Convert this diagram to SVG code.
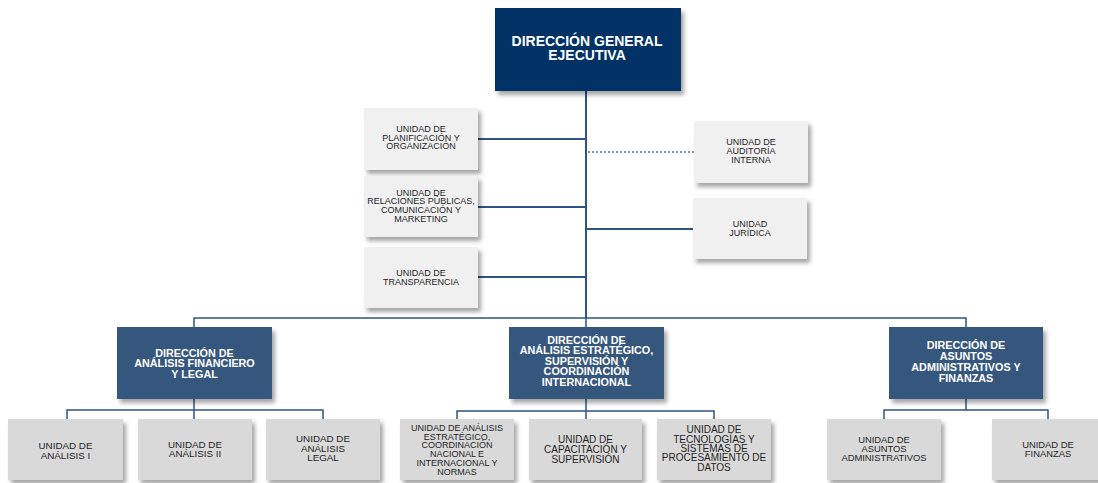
<svg xmlns="http://www.w3.org/2000/svg" width="1098" height="483" viewBox="0 0 1098 483">
<style>
.top{fill:#033366}
.dir{fill:#35577d}
.u1{fill:#f0f0f0}
.u2{fill:#d9d9d9}
.wt{font-family:"Liberation Sans",Arial,sans-serif;font-weight:bold;fill:#fff;text-anchor:middle}
.ut{font-family:"Liberation Sans",Arial,sans-serif;fill:#1e1e1e;text-anchor:middle}
.ln{stroke:#2e5387;fill:none}
</style>
<defs>
<filter id="sh" x="-10%" y="-10%" width="130%" height="140%">
<feDropShadow dx="3" dy="4" stdDeviation="2" flood-color="#000" flood-opacity="0.35"/>
</filter>
</defs>
<g id="connectors">
<line class="ln" x1="586" y1="90" x2="586" y2="318" stroke-width="2"/>
<line class="ln" x1="478" y1="139" x2="586" y2="139" stroke-width="2"/>
<line class="ln" x1="478" y1="207" x2="586" y2="207" stroke-width="2"/>
<line class="ln" x1="478" y1="277" x2="586" y2="277" stroke-width="2"/>
<line x1="588" y1="152" x2="694" y2="152" stroke="#7590bb" stroke-width="2" stroke-dasharray="2,2"/>
<line class="ln" x1="586" y1="229" x2="693" y2="229" stroke-width="2"/>
<polyline class="ln" points="194,327 194,318 966,318 966,327" stroke-width="1.5"/>
<line class="ln" x1="586" y1="318" x2="586" y2="327" stroke-width="1.5"/>
<line class="ln" x1="194" y1="399" x2="194" y2="419" stroke-width="1.5"/>
<polyline class="ln" points="67,419 67,410 323,410 323,419" stroke-width="1.5"/>
<line class="ln" x1="586" y1="399" x2="586" y2="419" stroke-width="1.5"/>
<polyline class="ln" points="457,419 457,411 714,411 714,419" stroke-width="1.5"/>
<line class="ln" x1="966" y1="399" x2="966" y2="410" stroke-width="1.5"/>
<polyline class="ln" points="884,419 884,410 1048,410 1048,419" stroke-width="1.5"/>
</g>
<g id="dge">
<rect class="top" x="495" y="8" width="186" height="83" filter="url(#sh)"/>
<text class="wt" font-size="14"><tspan x="587" y="45.5">DIRECCIÓN GENERAL</tspan><tspan x="587" y="59.5">EJECUTIVA</tspan></text>
</g>
<g id="planificacion">
<rect class="u1" x="364" y="108" width="114" height="62" filter="url(#sh)"/>
<text class="ut" font-size="9"><tspan x="421" y="132.3">UNIDAD DE</tspan><tspan x="421" y="140.7">PLANIFICACIÓN Y</tspan><tspan x="421" y="149">ORGANIZACIÓN</tspan></text>
</g>
<g id="relaciones">
<rect class="u1" x="364" y="176" width="114" height="61" filter="url(#sh)"/>
<text class="ut" font-size="9"><tspan x="421" y="195.7">UNIDAD DE</tspan><tspan x="421" y="204.2">RELACIONES PÚBLICAS,</tspan><tspan x="421" y="212.7">COMUNICACIÓN Y</tspan><tspan x="421" y="221.5">MARKETING</tspan></text>
</g>
<g id="transparencia">
<rect class="u1" x="364" y="247" width="114" height="61" filter="url(#sh)"/>
<text class="ut" font-size="9"><tspan x="421" y="276">UNIDAD DE</tspan><tspan x="421" y="285.3">TRANSPARENCIA</tspan></text>
</g>
<g id="auditoria">
<rect class="u1" x="694" y="121" width="114" height="62" filter="url(#sh)"/>
<text class="ut" font-size="9"><tspan x="751" y="145">UNIDAD DE</tspan><tspan x="751" y="154">AUDITORÍA</tspan><tspan x="751" y="163.3">INTERNA</tspan></text>
</g>
<g id="juridica">
<rect class="u1" x="693" y="198" width="114" height="61" filter="url(#sh)"/>
<text class="ut" font-size="9"><tspan x="750" y="227.3">UNIDAD</tspan><tspan x="750" y="236.3">JURÍDICA</tspan></text>
</g>
<g id="dir-financiero">
<rect class="dir" x="117" y="327" width="155" height="72" filter="url(#sh)"/>
<text class="wt" font-size="10.8"><tspan x="194.5" y="356.5">DIRECCIÓN DE</tspan><tspan x="194.5" y="367">ANÁLISIS FINANCIERO</tspan><tspan x="194.5" y="377.5">Y LEGAL</tspan></text>
</g>
<g id="dir-estrategico">
<rect class="dir" x="509" y="327" width="155" height="72" filter="url(#sh)"/>
<text class="wt" font-size="10.8"><tspan x="586.5" y="343.5">DIRECCIÓN DE</tspan><tspan x="586.5" y="354">ANÁLISIS ESTRATÉGICO,</tspan><tspan x="586.5" y="364.5">SUPERVISIÓN Y</tspan><tspan x="586.5" y="375">COORDINACIÓN</tspan><tspan x="586.5" y="385.5">INTERNACIONAL</tspan></text>
</g>
<g id="dir-administrativos">
<rect class="dir" x="889" y="327" width="154" height="72" filter="url(#sh)"/>
<text class="wt" font-size="10.8"><tspan x="966" y="349">DIRECCIÓN DE</tspan><tspan x="966" y="360">ASUNTOS</tspan><tspan x="966" y="371">ADMINISTRATIVOS Y</tspan><tspan x="966" y="382">FINANZAS</tspan></text>
</g>
<g id="analisis-1">
<rect class="u2" x="8" y="419" width="115" height="61" filter="url(#sh)"/>
<text class="ut" font-size="9.8"><tspan x="65.5" y="449.3">UNIDAD DE</tspan><tspan x="65.5" y="458.5">ANÁLISIS I</tspan></text>
</g>
<g id="analisis-2">
<rect class="u2" x="138" y="419" width="114" height="61" filter="url(#sh)"/>
<text class="ut" font-size="9.8"><tspan x="195" y="447.7">UNIDAD DE</tspan><tspan x="195" y="456.9">ANÁLISIS II</tspan></text>
</g>
<g id="analisis-legal">
<rect class="u2" x="266" y="419" width="114" height="61" filter="url(#sh)"/>
<text class="ut" font-size="9.8"><tspan x="323" y="442.3">UNIDAD DE</tspan><tspan x="323" y="451.7">ANÁLISIS</tspan><tspan x="323" y="461.3">LEGAL</tspan></text>
</g>
<g id="analisis-estrategico">
<rect class="u2" x="400" y="419" width="114" height="61" filter="url(#sh)"/>
<text class="ut" font-size="9"><tspan x="457" y="430.7">UNIDAD DE ANÁLISIS</tspan><tspan x="457" y="439.5">ESTRATÉGICO,</tspan><tspan x="457" y="448.3">COORDINACIÓN</tspan><tspan x="457" y="457.1">NACIONAL E</tspan><tspan x="457" y="465.9">INTERNACIONAL Y</tspan><tspan x="457" y="474.7">NORMAS</tspan></text>
</g>
<g id="capacitacion">
<rect class="u2" x="529" y="419" width="113" height="61" filter="url(#sh)"/>
<text class="ut" font-size="10"><tspan x="585.5" y="443.3">UNIDAD DE</tspan><tspan x="585.5" y="452.9">CAPACITACIÓN Y</tspan><tspan x="585.5" y="462.5">SUPERVISIÓN</tspan></text>
</g>
<g id="tecnologias">
<rect class="u2" x="657" y="419" width="114" height="61" filter="url(#sh)"/>
<text class="ut" font-size="10"><tspan x="714" y="433.3">UNIDAD DE</tspan><tspan x="714" y="442.6">TECNOLOGÍAS Y</tspan><tspan x="714" y="451.9">SISTEMAS DE</tspan><tspan x="714" y="461.2">PROCESAMIENTO DE</tspan><tspan x="714" y="470.5">DATOS</tspan></text>
</g>
<g id="asuntos-administrativos">
<rect class="u2" x="827" y="419" width="114" height="61" filter="url(#sh)"/>
<text class="ut" font-size="9.4"><tspan x="884" y="442.7">UNIDAD DE</tspan><tspan x="884" y="451.7">ASUNTOS</tspan><tspan x="884" y="460.7">ADMINISTRATIVOS</tspan></text>
</g>
<g id="finanzas">
<rect class="u2" x="992" y="419" width="114" height="61" filter="url(#sh)"/>
<text class="ut" font-size="9.4"><tspan x="1048" y="448.3">UNIDAD DE</tspan><tspan x="1048" y="457.3">FINANZAS</tspan></text>
</g>
</svg>
